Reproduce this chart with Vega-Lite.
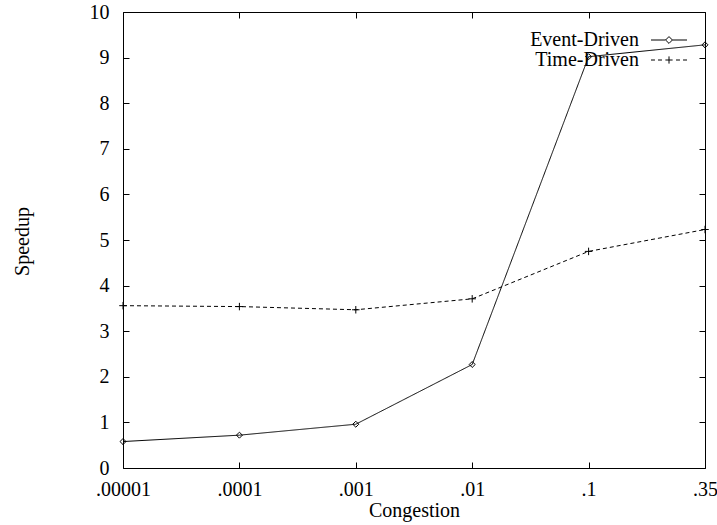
{
  "$schema": "https://vega.github.io/schema/vega-lite/v6.json",
  "width": 582,
  "height": 456,
  "autosize": "none",
  "padding": {"left": 123, "top": 12, "right": 12, "bottom": 57},
  "background": "white",
  "config": {
    "font": "Liberation Serif",
    "view": {"stroke": "black", "strokeWidth": 1},
    "axis": {
      "domain": false,
      "grid": false,
      "tickColor": "black",
      "tickSize": -6,
      "labelFont": "Liberation Serif",
      "labelFontSize": 20,
      "labelColor": "black",
      "titleFont": "Liberation Serif",
      "titleFontSize": 20,
      "titleFontWeight": "normal",
      "titleColor": "black"
    },
    "legend": {
      "labelFont": "Liberation Serif",
      "titleFont": "Liberation Serif"
    }
  },
  "data": {
    "values": [
      {"series": "Event-Driven", "congestion": ".00001", "speedup": 0.58},
      {"series": "Event-Driven", "congestion": ".0001", "speedup": 0.72},
      {"series": "Event-Driven", "congestion": ".001", "speedup": 0.96},
      {"series": "Event-Driven", "congestion": ".01", "speedup": 2.27},
      {"series": "Event-Driven", "congestion": ".1", "speedup": 9.02},
      {"series": "Event-Driven", "congestion": ".35", "speedup": 9.28},
      {"series": "Time-Driven", "congestion": ".00001", "speedup": 3.56},
      {"series": "Time-Driven", "congestion": ".0001", "speedup": 3.54},
      {"series": "Time-Driven", "congestion": ".001", "speedup": 3.47},
      {"series": "Time-Driven", "congestion": ".01", "speedup": 3.71},
      {"series": "Time-Driven", "congestion": ".1", "speedup": 4.75},
      {"series": "Time-Driven", "congestion": ".35", "speedup": 5.23}
    ]
  },
  "layer": [
    {
      "mark": {"type": "line", "color": "black", "strokeWidth": 1},
      "encoding": {
        "x": {
          "field": "congestion", "type": "ordinal",
          "sort": [".00001", ".0001", ".001", ".01", ".1", ".35"],
          "scale": {"type": "point", "padding": 0},
          "axis": {"orient": "bottom", "labelAngle": 0, "labelPadding": 17, "title": "Congestion", "titlePadding": 1}
        },
        "y": {
          "field": "speedup", "type": "quantitative",
          "scale": {"domain": [0, 10], "nice": false},
          "axis": {"orient": "left", "values": [0,1,2,3,4,5,6,7,8,9,10], "labelPadding": 20, "title": "Speedup", "titleX": -91, "titleY": 229}
        },
        "strokeDash": {
          "field": "series", "type": "nominal",
          "scale": {"domain": ["Event-Driven", "Time-Driven"], "range": [[1, 0], [4, 3]]},
          "legend": null
        }
      }
    },
    {
      "mark": {"type": "point", "filled": false, "color": "black", "strokeWidth": 1, "size": 56, "opacity": 1},
      "encoding": {
        "x": {"field": "congestion", "type": "ordinal", "sort": [".00001", ".0001", ".001", ".01", ".1", ".35"], "axis": null},
        "y": {"field": "speedup", "type": "quantitative", "axis": null},
        "shape": {
          "field": "series", "type": "nominal",
          "scale": {"domain": ["Event-Driven", "Time-Driven"], "range": ["M0,-0.8L0.8,0L0,0.8L-0.8,0Z", "M-1,0H1M0,-1V1"]},
          "legend": null
        }
      }
    },
    {
      "mark": {"type": "point", "filled": false, "color": "black", "strokeWidth": 1, "size": 324, "opacity": 0},
      "encoding": {
        "x": {
          "field": "congestion", "type": "ordinal",
          "sort": [".00001", ".0001", ".001", ".01", ".1", ".35"],
          "axis": {"orient": "top", "labels": false, "title": null}
        },
        "y": {
          "field": "speedup", "type": "quantitative",
          "axis": {"orient": "right", "values": [0,1,2,3,4,5,6,7,8,9,10], "labels": false, "title": null}
        },
        "shape": {
          "field": "series", "type": "nominal",
          "scale": {"domain": ["Event-Driven", "Time-Driven"], "range": [
            "M-2,0H-0.38M0.38,0H2M0,-0.38L0.38,0L0,0.38L-0.38,0Z",
            "M-2,0H-1.56M-1.22,0H-0.78M-0.4,0H0.4M0,-0.4V0.4M0.78,0H1.22M1.56,0H2"
          ]},
          "legend": {
            "title": null,
            "orient": "none",
            "legendX": 536,
            "legendY": 18,
            "symbolSize": 324,
            "symbolOpacity": 1,
            "symbolStrokeColor": "black",
            "symbolFillColor": "transparent",
            "symbolStrokeWidth": 1,
            "labelFont": "Liberation Serif",
            "labelFontSize": 20,
            "labelColor": "black",
            "labelAlign": "right",
            "labelOffset": -40,
            "rowPadding": -3
          }
        }
      }
    }
  ],
  "resolve": {"scale": {"shape": "independent"}, "axis": {"x": "independent", "y": "independent"}}
}
